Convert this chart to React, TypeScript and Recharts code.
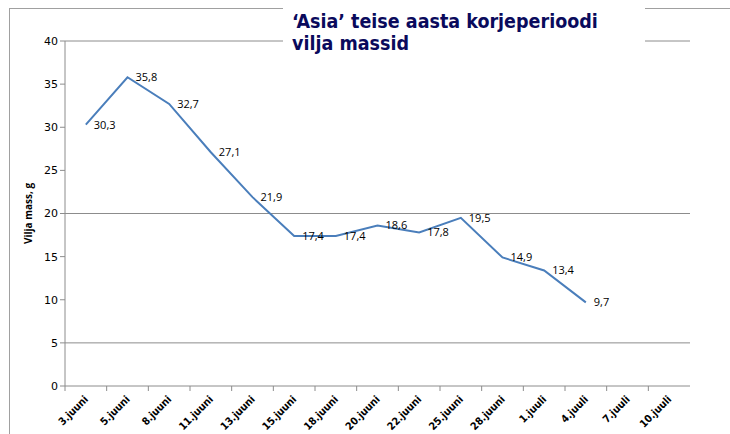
import React from 'react'
import {
  LineChart,
  Line,
  XAxis,
  YAxis,
  ReferenceLine,
  LabelList,
  Label,
} from 'recharts'

// kuupäevad (kategooriad)
const dates = [
  '3.juuni', '5.juuni', '8.juuni', '11.juuni', '13.juuni', '15.juuni', '18.juuni',
  '20.juuni', '22.juuni', '25.juuni', '28.juuni', '1.juuli', '4.juuli', '7.juuli', '10.juuli',
]

// vilja mass, g
const massValues: (number | null)[] = [
  30.3, 35.8, 32.7, 27.1, 21.9, 17.4, 17.4, 18.6, 17.8, 19.5, 14.9, 13.4, 9.7, null, null,
]

const yTicks = [0, 5, 10, 15, 20, 25, 30, 35, 40]
const gridValues = [40, 20, 5]

const data = dates.map((d, i) => ({ date: d, mass: massValues[i] }))

const AXIS_COLOR = '#8c8c8c'
const LINE_COLOR = '#4a7ebb'

const DateTick = (props: any) => {
  const { x, y, payload } = props
  const half = payload?.offset ?? 20.8
  const tx = x + 3
  const ty = y + 6
  return (
    <g>
      <line x1={x - half} y1={y - 8} x2={x - half} y2={y - 3} stroke={AXIS_COLOR} />
      <text
        x={tx}
        y={ty}
        textAnchor="end"
        transform={`rotate(-45, ${tx}, ${ty})`}
        fontSize={10.5}
        fontWeight="bold"
        fontFamily="'DejaVu Sans Condensed', 'DejaVu Sans', sans-serif"
        fill="#000"
      >
        {payload.value}
      </text>
    </g>
  )
}

export default function App() {
  return (
    <div style={{ position: 'absolute', left: 0, top: 0, width: 730, height: 434, background: '#fff', overflow: 'hidden' }}>
      <div
        style={{
          position: 'absolute',
          left: 9,
          top: 8,
          width: 740,
          height: 440,
          borderLeft: '1px solid #a0a0a0',
          borderTop: '1px solid #a0a0a0',
        }}
      />
      <LineChart
        width={730}
        height={434}
        data={data}
        margin={{ top: 41, right: 40, left: 10, bottom: 0 }}
        style={{ position: 'absolute', left: 0, top: 0 }}
      >
        {gridValues.map((v) => (
          <ReferenceLine key={v} y={v} stroke={AXIS_COLOR} strokeWidth={1} />
        ))}
        <XAxis
          dataKey="date"
          scale="band"
          height={48}
          interval={0}
          stroke={AXIS_COLOR}
          tickLine={false}
          tick={<DateTick />}
        />
        <YAxis
          width={55}
          domain={[0, 40]}
          ticks={yTicks}
          interval={0}
          stroke={AXIS_COLOR}
          tickSize={5}
          tick={{ fontSize: 11, fill: '#000', fontFamily: "'DejaVu Sans', sans-serif" }}
        >
          <Label
            value="Vilja mass, g"
            angle={-90}
            position="insideLeft"
            offset={18}
            style={{ fontSize: 10, fontWeight: 'bold', fill: '#000', fontFamily: "'Open Sans', sans-serif", textAnchor: 'middle' }}
          />
        </YAxis>
        <Line
          type="linear"
          dataKey="mass"
          stroke={LINE_COLOR}
          strokeWidth={2}
          dot={false}
          isAnimationActive={false}
        >
          <LabelList
            dataKey="mass"
            position="right"
            offset={8}
            formatter={(v: any) => (v == null ? '' : String(v).replace('.', ','))}
            style={{ fontSize: 11, fill: '#000', fontFamily: "'Open Sans', sans-serif" }}
          />
        </Line>
      </LineChart>
      <div
        style={{
          position: 'absolute',
          left: 283,
          top: 0,
          width: 362,
          height: 60,
          background: '#fff',
        }}
      >
        <div
          style={{
            position: 'absolute',
            left: 9,
            top: 11,
            fontFamily: "'DejaVu Sans Condensed', 'DejaVu Sans', sans-serif",
            fontWeight: 'bold',
            fontSize: 19.5,
            lineHeight: '22px',
            color: '#0a0a5c',
            whiteSpace: 'nowrap',
          }}
        >
          ‘Asia’ teise aasta korjeperioodi
          <br />
          vilja massid
        </div>
      </div>
    </div>
  )
}
